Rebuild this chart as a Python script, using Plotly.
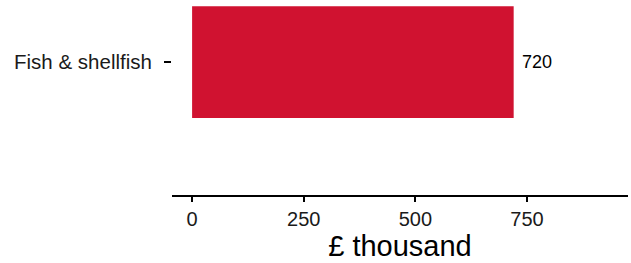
import plotly.graph_objects as go

categories = ["Fish & shellfish"]
values = [720]
value_labels = ["720"]
tick_vals = [0, 250, 500, 750]
tick_text = ["0", "250", "500", "750"]

FONT = "Liberation Sans, Arial, sans-serif"

fig = go.Figure(go.Bar(
    x=values, y=categories, orientation="h",
    marker=dict(color="#D01230", line=dict(width=0)),
    width=0.9,
    hoverinfo="x+y",
))

for v, c, t in zip(values, categories, value_labels):
    fig.add_annotation(
        x=v, y=c, text=t, showarrow=False,
        xanchor="left", yanchor="middle", xshift=6,
        font=dict(family=FONT, size=18, color="#000000"),
    )

fig.update_layout(
    width=631, height=263,
    margin=dict(l=172, r=3, t=0, b=68),
    plot_bgcolor="white", paper_bgcolor="white",
    font=dict(family=FONT, color="#000000"),
    showlegend=False,
    bargap=0.1,
)
fig.update_xaxes(
    range=[-45, 976],
    tickvals=tick_vals, ticktext=tick_text,
    showgrid=False, zeroline=False,
    showline=True, linecolor="black", linewidth=2,
    ticks="outside", ticklen=5, tickwidth=2, tickcolor="black",
    tickfont=dict(size=20, color="#1a1a1a"),
    title=dict(text="£ thousand", font=dict(size=29, color="#000000"), standoff=4),
)
fig.update_yaxes(
    range=[-1.07, 0.5],
    showgrid=False, zeroline=False, showline=False,
    ticks="outside", ticklen=7, tickwidth=2, tickcolor="black",
    tickfont=dict(size=20.5, color="#1a1a1a"),
    ticklabelstandoff=8,
)

fig.write_html("out.html", config={"displayModeBar": False},
               post_script="document.body.style.margin='0';")
